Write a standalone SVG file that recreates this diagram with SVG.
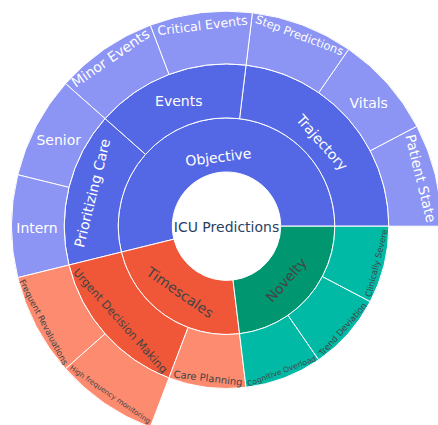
<svg xmlns="http://www.w3.org/2000/svg" width="438" height="425" viewBox="0 0 438 425">
  <style>
    .seg { stroke: #ffffff; stroke-width: 1; }
    .blue { fill: #5468e6; }
    .lblue { fill: #8c94f4; }
    .red { fill: #ef5738; }
    .salmon { fill: #fc8b70; }
    .green { fill: #009670; }
    .teal { fill: #00baa6; }
    text { font-family: "DejaVu Sans", Verdana, sans-serif; text-anchor: middle; }
    .lt { fill: #ffffff; }
    .dk { fill: #444444; }
    .root { fill: #2a3f5f; }
  </style>
  <rect width="438" height="425" fill="#ffffff"/>

  <!-- root -->
  <g id="icu-predictions">
    <circle class="seg" cx="226.5" cy="226.2" r="54.2" fill="#ffffff"/>
    <text class="root" x="226.5" y="227.2" dy="0.35em" font-size="14">ICU Predictions</text>
  </g>

  <!-- ring 1 -->
  <g id="objective">
    <path class="seg blue" d="M334.8,226.2 A108.3,108.3 0 1 0 121.35,252.12 L173.88,239.17 A54.2,54.2 0 1 1 280.7,226.2 Z"/>
    <text class="lt" transform="translate(218.3,157.2) rotate(-6.92)" dy="0.35em" font-size="14">Objective</text>
  </g>
  <g id="timescales">
    <path class="seg red" d="M121.35,252.12 A108.3,108.3 0 0 0 239.55,333.71 L233.03,280.0 A54.2,54.2 0 0 1 173.88,239.17 Z"/>
    <text class="dk" transform="translate(180,292.5) rotate(34.62)" dy="0.35em" font-size="14">Timescales</text>
  </g>
  <g id="novelty">
    <path class="seg green" d="M239.55,333.71 A108.3,108.3 0 0 0 334.8,226.2 L280.7,226.2 A54.2,54.2 0 0 1 233.03,280.0 Z"/>
    <text class="dk" transform="translate(286.3,280) rotate(-48.46)" dy="0.35em" font-size="14">Novelty</text>
  </g>

  <!-- ring 2 -->
  <g id="trajectory">
    <path class="seg blue" d="M388.8,226.2 A162.3,162.3 0 0 0 246.06,65.08 L239.55,118.69 A108.3,108.3 0 0 1 334.8,226.2 Z"/>
    <text class="lt" transform="translate(322,142.5) rotate(48.46)" dy="0.35em" font-size="14">Trajectory</text>
  </g>
  <g id="events">
    <path class="seg blue" d="M246.06,65.08 A162.3,162.3 0 0 0 105.02,118.58 L145.44,154.38 A108.3,108.3 0 0 1 239.55,118.69 Z"/>
    <text class="lt" x="178.8" y="100.9" dy="0.35em" font-size="14">Events</text>
  </g>
  <g id="prioritizing-care">
    <path class="seg blue" d="M105.02,118.58 A162.3,162.3 0 0 0 68.92,265.04 L121.35,252.12 A108.3,108.3 0 0 1 145.44,154.38 Z"/>
    <text class="lt" transform="translate(92.3,193) rotate(-76.15)" dy="0.35em" font-size="14">Prioritizing Care</text>
  </g>
  <g id="urgent-decision-making">
    <path class="seg red" d="M68.92,265.04 A162.3,162.3 0 0 0 168.95,377.95 L188.10,327.46 A108.3,108.3 0 0 1 121.35,252.12 Z"/>
    <text class="dk" transform="translate(120.5,320.8) rotate(48.46)" dy="0.35em" font-size="11.4">Urgent Decision Making</text>
  </g>
  <g id="care-planning">
    <path class="seg salmon" d="M168.95,377.95 A162.3,162.3 0 0 0 246.06,387.32 L239.55,333.71 A108.3,108.3 0 0 1 188.10,327.46 Z"/>
    <text class="dk" transform="translate(208.1,378.1) rotate(6.92)" dy="0.35em" font-size="10">Care Planning</text>
  </g>
  <g id="cognitive-overload">
    <path class="seg teal" d="M246.06,387.32 A162.3,162.3 0 0 0 318.70,359.77 L288.02,315.33 A108.3,108.3 0 0 1 239.55,333.71 Z"/>
    <text class="dk" transform="translate(281.5,371.1) rotate(-20.77)" dy="0.35em" font-size="7.6">Cognitive Overload</text>
  </g>
  <g id="trend-deviation">
    <path class="seg teal" d="M318.70,359.77 A162.3,162.3 0 0 0 370.21,301.62 L322.40,276.53 A108.3,108.3 0 0 1 288.02,315.33 Z"/>
    <text class="dk" transform="translate(342.8,329.2) rotate(-48.46)" dy="0.35em" font-size="8.6">Trend Deviation</text>
  </g>
  <g id="clinically-severe">
    <path class="seg teal" d="M370.21,301.62 A162.3,162.3 0 0 0 388.8,226.2 L334.8,226.2 A108.3,108.3 0 0 1 322.40,276.53 Z"/>
    <text class="dk" transform="translate(376.5,263.2) rotate(-76.15)" dy="0.35em" font-size="8.4">Clinically Severe</text>
  </g>

  <!-- ring 3 -->
  <g id="patient-state">
    <path class="seg lblue" d="M441.5,226.2 A215,215 0 0 0 416.87,126.29 L370.21,150.78 A162.3,162.3 0 0 1 388.8,226.2 Z"/>
    <text class="lt" transform="translate(420.7,178.3) rotate(76.15)" dy="0.35em" font-size="14">Patient State</text>
  </g>
  <g id="vitals">
    <path class="seg lblue" d="M416.87,126.29 A215,215 0 0 0 348.63,49.26 L318.70,92.63 A162.3,162.3 0 0 1 370.21,150.78 Z"/>
    <text class="lt" x="368.7" y="102.6" dy="0.35em" font-size="14">Vitals</text>
  </g>
  <g id="step-predictions">
    <path class="seg lblue" d="M348.63,49.26 A215,215 0 0 0 252.42,12.77 L246.06,65.08 A162.3,162.3 0 0 1 318.70,92.63 Z"/>
    <text class="lt" transform="translate(299.5,35.3) rotate(20.77)" dy="0.35em" font-size="11.5">Step Predictions</text>
  </g>
  <g id="critical-events">
    <path class="seg lblue" d="M252.42,12.77 A215,215 0 0 0 150.26,25.17 L168.95,74.45 A162.3,162.3 0 0 1 246.06,65.08 Z"/>
    <text class="lt" transform="translate(202.4,25.5) rotate(-6.92)" dy="0.35em" font-size="12.6">Critical Events</text>
  </g>
  <g id="minor-events">
    <path class="seg lblue" d="M150.26,25.17 A215,215 0 0 0 65.57,83.63 L105.02,118.58 A162.3,162.3 0 0 1 168.95,74.45 Z"/>
    <text class="lt" transform="translate(110.4,58) rotate(-34.62)" dy="0.35em" font-size="14">Minor Events</text>
  </g>
  <g id="senior">
    <path class="seg lblue" d="M65.57,83.63 A215,215 0 0 0 17.75,174.75 L68.92,187.36 A162.3,162.3 0 0 1 105.02,118.58 Z"/>
    <text class="lt" x="58.7" y="139.9" dy="0.35em" font-size="14">Senior</text>
  </g>
  <g id="intern">
    <path class="seg lblue" d="M17.75,174.75 A215,215 0 0 0 17.75,277.65 L68.92,265.04 A162.3,162.3 0 0 1 68.92,187.36 Z"/>
    <text class="lt" x="37" y="227.6" dy="0.35em" font-size="14">Intern</text>
  </g>
  <g id="frequent-revaluations">
    <path class="seg salmon" d="M17.75,277.65 A215,215 0 0 0 65.57,368.77 L105.02,333.82 A162.3,162.3 0 0 1 68.92,265.04 Z"/>
    <text class="dk" transform="translate(43.6,322.2) rotate(62.31)" dy="0.35em" font-size="8.5">Frequent Revaluations</text>
  </g>
  <g id="high-frequency-monitoring">
    <path class="seg salmon" d="M65.57,368.77 A215,215 0 0 0 150.26,427.23 L168.95,377.95 A162.3,162.3 0 0 1 105.02,333.82 Z"/>
    <text class="dk" transform="translate(110.3,394.4) rotate(34.62)" dy="0.35em" font-size="7.2">High frequency monitoring</text>
  </g>
</svg>
